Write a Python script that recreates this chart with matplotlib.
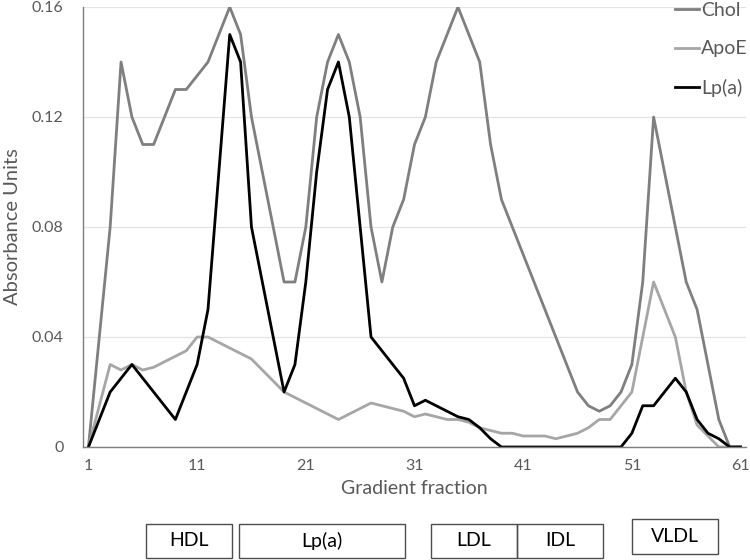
import numpy as np
import matplotlib
matplotlib.use("Agg")
import matplotlib.pyplot as plt
from matplotlib.patches import Rectangle

plt.rcParams['font.family'] = ['Lato', 'DejaVu Sans']

fraction = np.arange(1, 62)

chol = [0, 0.04, 0.08, 0.14, 0.12, 0.11, 0.11, 0.12, 0.13, 0.13,
        0.135, 0.14, 0.15, 0.16, 0.15, 0.12, 0.10, 0.08, 0.06, 0.06,
        0.08, 0.12, 0.14, 0.15, 0.14, 0.12, 0.08, 0.06, 0.08, 0.09,
        0.11, 0.12, 0.14, 0.15, 0.16, 0.15, 0.14, 0.11, 0.09, 0.08,
        0.07, 0.06, 0.05, 0.04, 0.03, 0.02, 0.015, 0.013, 0.015, 0.02,
        0.03, 0.06, 0.12, 0.10, 0.08, 0.06, 0.05, 0.03, 0.01, 0, 0]

apoe = [0, 0.015, 0.03, 0.028, 0.03, 0.028, 0.029, 0.031, 0.033, 0.035,
        0.04, 0.04, 0.038, 0.036, 0.034, 0.032, 0.028, 0.024, 0.02, 0.018,
        0.016, 0.014, 0.012, 0.01, 0.012, 0.014, 0.016, 0.015, 0.014, 0.013,
        0.011, 0.012, 0.011, 0.01, 0.01, 0.009, 0.007, 0.006, 0.005, 0.005,
        0.004, 0.004, 0.004, 0.003, 0.004, 0.005, 0.007, 0.01, 0.01, 0.015,
        0.02, 0.04, 0.06, 0.05, 0.04, 0.02, 0.008, 0.004, 0, 0, 0]

lpa = [0, 0.01, 0.02, 0.025, 0.03, 0.025, 0.02, 0.015, 0.01, 0.02,
       0.03, 0.05, 0.10, 0.15, 0.14, 0.08, 0.06, 0.04, 0.02, 0.03,
       0.06, 0.10, 0.13, 0.14, 0.12, 0.08, 0.04, 0.035, 0.03, 0.025,
       0.015, 0.017, 0.015, 0.013, 0.011, 0.01, 0.007, 0.003, 0, 0,
       0, 0, 0, 0, 0, 0, 0, 0, 0, 0,
       0.005, 0.015, 0.015, 0.02, 0.025, 0.02, 0.01, 0.005, 0.003, 0, 0]

xticks = [1, 11, 21, 31, 41, 51, 61]
yticks = [0, 0.04, 0.08, 0.12, 0.16]
ytick_labels = ["0", "0.04", "0.08", "0.12", "0.16"]

# lipoprotein class boxes under the axis: (label, left px, right px, top px, bottom px)
box_labels = ["HDL", "Lp(a)", "LDL", "IDL", "VLDL"]
box_px = [(146, 232, 524, 558), (239, 405, 524, 558), (431, 517, 524, 558),
          (517, 603, 524, 558), (632, 718, 519, 554)]

W, H = 750, 560
fig = plt.figure(figsize=(W / 100, H / 100), dpi=100)
ax = fig.add_axes([83 / W, 1 - 447 / H, 663 / W, 440 / H])

txt = "#595959"
ax.plot(fraction, chol, color="#7f7f7f", lw=2.0, label="Chol")
ax.plot(fraction, apoe, color="#a6a6a6", lw=2.0, label="ApoE")
ax.plot(fraction, lpa, color="black", lw=2.0, label="Lp(a)")

ax.set_xlim(0.5, 61.5)
ax.set_ylim(0, 0.16)
ax.set_xticks(xticks)
ax.set_yticks(yticks)
ax.set_yticklabels(ytick_labels)
ax.tick_params(length=0, labelsize=11.5, labelcolor=txt)
ax.tick_params(axis="y", pad=14)
ax.tick_params(axis="x", pad=9)
ax.grid(axis="y", color="#e3e3e3", lw=0.9)
ax.set_axisbelow(True)
for s in ["top", "right"]:
    ax.spines[s].set_visible(False)
for s in ["left", "bottom"]:
    ax.spines[s].set_color("#7f7f7f")
    ax.spines[s].set_linewidth(1.0)

ax.set_ylabel("Absorbance Units", fontsize=14.5, color=txt, labelpad=8)
ax.set_xlabel("Gradient fraction", fontsize=14, color=txt, labelpad=5)

leg = ax.legend(loc="upper right", bbox_to_anchor=(748 / W, 1 - 2 / H),
                bbox_transform=fig.transFigure, frameon=False, fontsize=14,
                labelspacing=1.1, handlelength=1.25, handletextpad=0.1,
                borderpad=0.0, borderaxespad=0.0)
for t in leg.get_texts():
    t.set_color(txt)

for lab, (x0, x1, y0, y1) in zip(box_labels, box_px):
    r = Rectangle((x0 / W, 1 - y1 / H), (x1 - x0) / W, (y1 - y0) / H,
                  transform=fig.transFigure, fill=False, ec="#4d4d4d", lw=1.0)
    fig.add_artist(r)
    fig.text((x0 + x1) / 2 / W, 1 - (y0 + y1) / 2 / H, lab,
             ha="center", va="center", fontsize=14, color="black")

fig.savefig("out.png", dpi=100)
